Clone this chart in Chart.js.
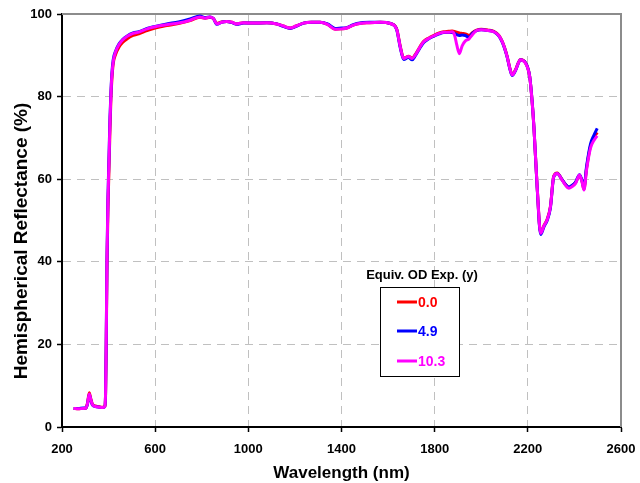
<!DOCTYPE html>
<html>
<head>
<meta charset="utf-8">
<script src="https://cdn.jsdelivr.net/npm/chart.js@4"></script>
<style>
  html, body { margin: 0; padding: 0; background: #fff; }
  #wrap { width: 640px; height: 483px; position: relative; }
</style>
</head>
<body>
<div id="wrap"><canvas id="reflChart" width="640" height="483"></canvas></div>
<script>
// Data
const wavelengths = [250, 270, 290, 303, 310, 317, 323, 330, 342, 360, 375, 383, 387, 390, 393, 397, 402, 406, 410, 414, 420, 430, 445, 460, 480, 505, 530, 565, 600, 650, 700, 750, 792, 815, 835, 850, 865, 885, 907, 930, 950, 980, 1020, 1080, 1122, 1150, 1180, 1205, 1237, 1270, 1308, 1340, 1373, 1400, 1423, 1445, 1466, 1520, 1567, 1610, 1630, 1638, 1652, 1667, 1688, 1703, 1717, 1735, 1753, 1775, 1796, 1820, 1839, 1860, 1875, 1885, 1895, 1906, 1918, 1932, 1948, 1962, 1980, 2000, 2030, 2054, 2075, 2090, 2100, 2111, 2122, 2133, 2147, 2160, 2168, 2180, 2190, 2200, 2208, 2218, 2226, 2240, 2255, 2270, 2283, 2297, 2311, 2326, 2347, 2362, 2376, 2390, 2405, 2422, 2432, 2441, 2452, 2469, 2485, 2498];

const refl00 = [4.5, 4.4, 4.5, 4.6, 6.0, 8.3, 7.0, 5.6, 5.1, 4.9, 4.8, 4.9, 7.5, 20, 38, 52, 63, 72, 79.5, 84, 88, 90.2, 92.0, 93.1, 94.0, 94.8, 95.2, 96.0, 96.6, 97.2, 97.7, 98.4, 99.2, 99.0, 99.2, 98.9, 97.7, 98.1, 98.2, 98.0, 97.6, 97.9, 97.8, 97.9, 97.6, 97.1, 96.6, 97.1, 97.8, 98.0, 98.0, 97.5, 96.3, 96.4, 96.6, 97.2, 97.6, 97.9, 98.0, 97.7, 97.1, 96.2, 92.3, 89.3, 89.8, 89.3, 90.2, 91.9, 93.4, 94.2, 94.8, 95.4, 95.7, 95.8, 95.9, 95.8, 95.6, 95.4, 95.3, 95.2, 94.8, 95.5, 96.1, 96.3, 96.1, 95.8, 94.9, 93.4, 91.9, 89.8, 87.1, 85.3, 86.5, 88.3, 89.0, 88.8, 88.2, 86.9, 84.9, 79.1, 72.7, 58.2, 47.0, 48.9, 50.3, 53.4, 60.7, 61.5, 59.9, 58.7, 58.0, 58.4, 59.2, 60.9, 59.6, 57.6, 62.6, 68.0, 70.2, 71.3];

const refl49 = [4.5, 4.5, 4.6, 4.6, 5.7, 7.8, 6.6, 5.4, 5.0, 4.8, 4.7, 4.9, 8.0, 22, 40, 55, 66, 75, 81, 85.5, 89, 91, 92.8, 93.8, 94.7, 95.4, 95.7, 96.5, 97.0, 97.6, 98.1, 98.8, 99.5, 99.1, 99.3, 98.9, 97.5, 98.0, 98.2, 97.9, 97.5, 97.8, 97.8, 97.9, 97.6, 97.0, 96.5, 97.0, 97.8, 98.0, 98.0, 97.6, 96.5, 96.6, 96.7, 97.3, 97.7, 98.0, 98.0, 97.7, 97.0, 96.0, 91.9, 89.0, 89.5, 88.9, 89.9, 91.6, 93.1, 94.0, 94.6, 95.2, 95.5, 95.5, 95.5, 95.3, 95.0, 94.8, 94.9, 94.8, 94.3, 95.3, 96.0, 96.2, 96.0, 95.7, 94.7, 93.2, 91.7, 89.6, 86.9, 85.1, 86.3, 88.2, 88.9, 88.7, 88.2, 86.9, 84.9, 79.2, 72.8, 58.0, 46.6, 48.6, 50.0, 53.1, 60.5, 61.4, 59.9, 58.7, 58.1, 58.5, 59.3, 61.1, 59.8, 58.0, 63.0, 68.5, 70.8, 72.3];

const refl103 = [4.5, 4.4, 4.5, 4.6, 5.8, 8.0, 6.8, 5.5, 5.0, 4.8, 4.7, 4.9, 8.0, 22, 40, 54, 65, 74, 80.5, 85, 88.5, 90.8, 92.6, 93.7, 94.6, 95.3, 95.6, 96.4, 96.9, 97.4, 97.8, 98.5, 99.3, 99.0, 99.3, 98.9, 97.6, 98.0, 98.2, 98.0, 97.6, 97.9, 97.8, 97.9, 97.6, 97.1, 96.6, 97.1, 97.8, 98.0, 98.0, 97.5, 96.3, 96.4, 96.6, 97.2, 97.6, 97.9, 98.0, 97.7, 97.0, 96.1, 92.1, 89.2, 89.7, 89.2, 90.1, 91.8, 93.3, 94.1, 94.7, 95.3, 95.6, 95.6, 95.7, 95.0, 92.5, 90.4, 92.3, 93.5, 94.0, 95.0, 96.0, 96.2, 96.0, 95.7, 94.8, 93.3, 91.8, 89.7, 87.0, 85.2, 86.4, 88.2, 88.9, 88.7, 88.1, 86.8, 84.8, 79.0, 72.7, 58.2, 46.9, 48.8, 50.2, 53.3, 60.6, 61.4, 59.8, 58.5, 57.8, 58.2, 59.0, 61.0, 59.5, 57.4, 62.2, 67.5, 69.5, 70.5];

const seriesLabels = ['0.0', '4.9', '10.3'];
const seriesColors = ['#ff0000', '#0000ff', '#ff00ff'];
const xTicks = [200, 600, 1000, 1400, 1800, 2200, 2600];
const yTicks = [0, 20, 40, 60, 80, 100];

Chart.defaults.font.family = 'Arial';
Chart.defaults.color = '#000';

const toPoints = vals => vals.map((v, i) => ({ x: wavelengths[i], y: v }));

// top + right frame of the plot area
const frame = {
  id: 'frame',
  beforeDatasetsDraw(chart) {
    const { ctx, chartArea: a } = chart;
    ctx.save();
    ctx.strokeStyle = '#8c8c8c';
    ctx.lineWidth = 2;
    ctx.beginPath();
    ctx.moveTo(a.left, a.top);
    ctx.lineTo(a.right, a.top);
    ctx.lineTo(a.right, a.bottom);
    ctx.stroke();
    ctx.restore();
  }
};

// y title (sits lower than the axis centre) and boxed legend
const extras = {
  id: 'extras',
  afterDraw(chart) {
    const ctx = chart.ctx;
    ctx.save();
    ctx.fillStyle = '#000';
    ctx.font = 'bold 19px Arial';
    ctx.textAlign = 'center';
    ctx.textBaseline = 'alphabetic';
    ctx.translate(27, 241);
    ctx.rotate(-Math.PI / 2);
    ctx.fillText('Hemispherical Reflectance (%)', 0, 0);
    ctx.restore();

    ctx.save();
    ctx.font = 'bold 13px Arial';
    ctx.textAlign = 'center';
    ctx.textBaseline = 'alphabetic';
    ctx.fillStyle = '#000';
    ctx.fillText('Equiv. OD Exp. (y)', 422, 279);
    ctx.fillStyle = '#fff';
    ctx.fillRect(380.5, 287.5, 79, 89);
    ctx.strokeStyle = '#000';
    ctx.lineWidth = 1;
    ctx.strokeRect(380.5, 287.5, 79, 89);
    ctx.font = 'bold 14px Arial';
    ctx.textAlign = 'left';
    ctx.textBaseline = 'middle';
    const rows = [302, 331, 361];
    chart.data.datasets.forEach((ds, i) => {
      ctx.strokeStyle = ds.borderColor;
      ctx.lineWidth = 3;
      ctx.beginPath();
      ctx.moveTo(397, rows[i]);
      ctx.lineTo(417, rows[i]);
      ctx.stroke();
      ctx.fillStyle = ds.borderColor;
      ctx.fillText(ds.label, 418, rows[i] + 1);
    });
    ctx.restore();
  }
};

new Chart(document.getElementById('reflChart'), {
  type: 'line',
  data: {
    datasets: [
      { label: seriesLabels[0], data: toPoints(refl00), borderColor: seriesColors[0], order: 3 },
      { label: seriesLabels[1], data: toPoints(refl49), borderColor: seriesColors[1], order: 2 },
      { label: seriesLabels[2], data: toPoints(refl103), borderColor: seriesColors[2], order: 1 }
    ]
  },
  options: {
    responsive: false,
    animation: false,
    layout: { padding: { left: 0, right: 19, top: 14, bottom: 0 } },
    elements: {
      point: { radius: 0 },
      line: { borderWidth: 3, cubicInterpolationMode: 'monotone', fill: false }
    },
    plugins: { legend: { display: false }, tooltip: { enabled: false } },
    scales: {
      x: {
        type: 'linear',
        min: 200,
        max: 2600,
        afterBuildTicks: s => { s.ticks = xTicks.map(v => ({ value: v })); },
        afterFit: s => { s.height = 56; s.paddingLeft = 0; s.paddingRight = 0; },
        grid: { color: '#c0c0c0', lineWidth: 1, tickColor: '#000', tickLength: 5, tickWidth: 1.5 },
        border: { display: true, color: '#000', width: 2, dash: [8, 6] },
        ticks: { font: { size: 13, weight: 'bold' }, padding: 10, maxRotation: 0, callback: v => String(v) },
        title: { display: true, text: 'Wavelength (nm)', font: { size: 17, weight: 'bold' }, padding: { top: 0, bottom: -1 } }
      },
      y: {
        min: 0,
        max: 100,
        afterBuildTicks: s => { s.ticks = yTicks.map(v => ({ value: v })); },
        afterFit: s => { s.width = 62; },
        grid: { color: '#c0c0c0', lineWidth: 1, tickColor: '#000', tickLength: 5, tickWidth: 1.5 },
        border: { display: true, color: '#000', width: 2, dash: [8, 6] },
        ticks: { font: { size: 13, weight: 'bold' }, padding: 5, callback: v => String(v) }
      }
    }
  },
  plugins: [frame, extras]
});
</script>
</body>
</html>
